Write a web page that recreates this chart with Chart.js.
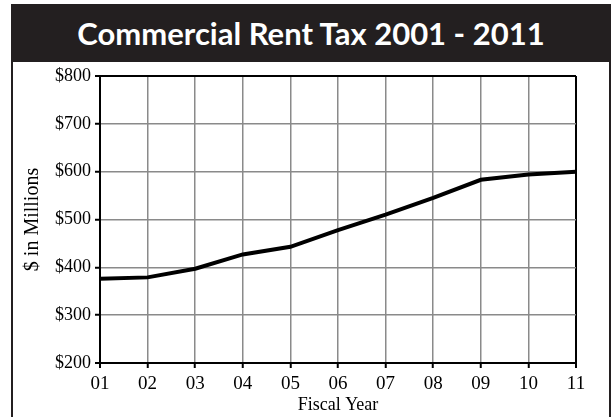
<!DOCTYPE html>
<html>
<head>
<meta charset="utf-8">
<script src="https://cdn.jsdelivr.net/npm/chart.js@4"></script>
<style>
    html, body { margin: 0; padding: 0; background: #fff; }
    #wrap { position: relative; width: 611px; height: 417px; overflow: hidden; }
    #titleBar {
        position: absolute; left: 11px; top: 4px; width: 600px; height: 58px;
        background: #231f20; color: #fff;
        font-family: Lato, "Open Sans", sans-serif; font-weight: bold; font-size: 31px;
        line-height: 58px; text-align: center;
    }
    #frame {
        position: absolute; left: 11px; top: 62px; width: 596px; height: 360px;
        border-left: 2px solid #231f20; border-right: 2px solid #231f20;
    }
    #chartCanvas { position: absolute; left: 0; top: 0; }
</style>
</head>
<body>
<div id="wrap">
    <div id="titleBar">Commercial Rent Tax 2001 - 2011</div>
    <div id="frame"></div>
    <canvas id="chartCanvas" width="611" height="417"></canvas>
</div>
<script>
// fiscal years (two digit labels)
var years = ['01', '02', '03', '04', '05', '06', '07', '08', '09', '10', '11'];
// commercial rent tax revenue, $ millions
var revenue = [376, 379, 397, 427, 443, 478, 510, 545, 583, 594, 600];

var yMin = 200;
var yMax = 800;
var yStep = 100;

var serif = 'Liberation Serif';

function edgeColor(ctx, last) {
    return (ctx.index === 0 || ctx.index === last) ? '#000000' : '#8a8a8a';
}

var ctx = document.getElementById('chartCanvas').getContext('2d');
var chart = new Chart(ctx, {
    type: 'line',
    data: {
        labels: years,
        datasets: [{
            label: 'Commercial Rent Tax',
            data: revenue,
            borderColor: '#000000',
            borderWidth: 4,
            pointRadius: 0,
            tension: 0,
            fill: false
        }]
    },
    options: {
        responsive: false,
        animation: false,
        layout: {
            padding: { left: 20, right: 35, top: 76, bottom: 0 }
        },
        plugins: {
            legend: { display: false },
            title: { display: false },
            tooltip: { enabled: false }
        },
        scales: {
            x: {
                grid: {
                    color: function(c) { return edgeColor(c, years.length - 1); },
                    lineWidth: function(c) { return (c.index === 0 || c.index === years.length - 1) ? 2 : 1.5; },
                    tickColor: '#000000',
                    tickLength: 5,
                    tickWidth: 2
                },
                border: { color: '#000000', width: 2 },
                ticks: {
                    color: '#000000',
                    font: { family: serif, size: 19 },
                    padding: 5,
                    maxRotation: 0
                },
                title: {
                    display: true,
                    text: 'Fiscal Year',
                    color: '#000000',
                    font: { family: serif, size: 18 },
                    padding: { top: 0, bottom: 1 }
                },
                afterFit: function(scale) { scale.height = 54; }
            },
            y: {
                min: yMin,
                max: yMax,
                grid: {
                    color: function(c) { return edgeColor(c, (yMax - yMin) / yStep); },
                    lineWidth: function(c) { return (c.index === 0 || c.index === (yMax - yMin) / yStep) ? 2 : 1.5; },
                    tickColor: '#000000',
                    tickLength: 5,
                    tickWidth: 2
                },
                border: { color: '#000000', width: 2 },
                ticks: {
                    stepSize: yStep,
                    color: '#000000',
                    font: { family: serif, size: 18 },
                    padding: 4,
                    callback: function(v) { return '$' + v; }
                },
                title: {
                    display: true,
                    text: '$ in Millions',
                    color: '#000000',
                    font: { family: serif, size: 20 },
                    padding: { top: 1, bottom: 0 }
                },
                afterFit: function(scale) { scale.width = 80; }
            }
        }
    }
});
</script>
</body>
</html>
